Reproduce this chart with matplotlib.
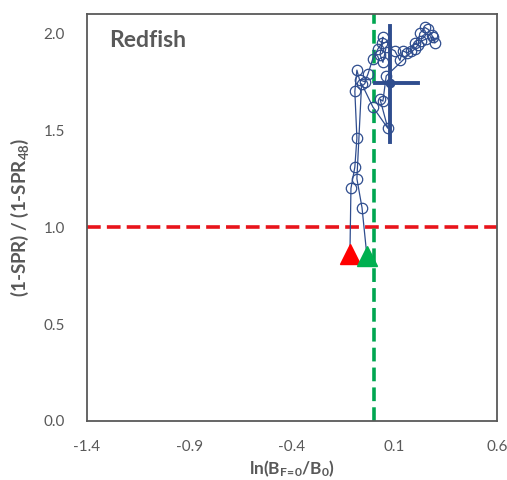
import matplotlib
matplotlib.use("Agg")
import matplotlib.pyplot as plt

# Trajectory (ln(B_F=0/B0), (1-SPR)/(1-SPR48))
traj_x = [-0.117, -0.112, -0.093, -0.083, -0.093, -0.083, -0.070, -0.044, -0.029,
          -0.005, 0.020, 0.039, 0.044, 0.030, 0.044, 0.060, 0.102, 0.127, 0.140,
          0.161, 0.180, 0.200, 0.215, 0.224, 0.249, 0.265, 0.283, 0.298, 0.290,
          0.255, 0.230, 0.200, 0.060, 0.044, 0.030, 0.068, -0.005, -0.060,
          -0.083, -0.058, -0.034]
traj_y = [0.86, 1.20, 1.31, 1.46, 1.70, 1.81, 1.76, 1.75, 1.79,
          1.87, 1.92, 1.95, 1.98, 1.89, 1.85, 1.93, 1.91, 1.86, 1.91,
          1.90, 1.91, 1.95, 1.94, 2.00, 2.03, 2.02, 1.99, 1.95, 1.98,
          1.97, 1.96, 1.92, 1.78, 1.65, 1.66, 1.51, 1.62, 1.74,
          1.25, 1.10, 0.85]
# marker points exclude the triangle endpoints
pts_x = traj_x[1:-1]
pts_y = traj_y[1:-1]

# current status with uncertainty
cur_x, cur_y = 0.078, 1.742
cur_xlo, cur_xhi = 0.005, 0.215
cur_ylo, cur_yhi = 1.44, 2.04

start_red = (-0.117, 0.86)
start_green = (-0.034, 0.85)

ref_x = 0.0
ref_y = 1.0

xticks = [-1.4, -0.9, -0.4, 0.1, 0.6]
yticks = [0.0, 0.5, 1.0, 1.5, 2.0]

plt.rcParams['font.family'] = ['Lato', 'DejaVu Sans']
plt.rcParams['mathtext.default'] = 'regular'

fig = plt.figure(figsize=(5.07, 4.80), dpi=100)
ax = fig.add_axes([0.1716, 0.123, 0.8084, 0.848])

gray = '#595959'
blue = '#2F4D8E'

ax.axhline(ref_y, color='#E8141B', lw=2.6, dashes=(3.8, 1.7), zorder=2)
ax.axvline(ref_x, color='#00A651', lw=2.6, dashes=(3.8, 1.7), zorder=2)

ax.plot(traj_x, traj_y, color=blue, lw=0.9, zorder=3)
ax.plot(pts_x, pts_y, ls='none', marker='o', ms=7.5, mfc='none', mec=blue,
        mew=0.9, zorder=4)

ax.plot([cur_xlo, cur_xhi], [cur_y, cur_y], color=blue, lw=2.8, zorder=5)
ax.plot([cur_x, cur_x], [cur_ylo, cur_yhi], color=blue, lw=2.8, zorder=5)
ax.plot([cur_x], [cur_y], marker='o', ms=6, color=blue, zorder=5)

ax.plot([start_red[0]], [start_red[1]], marker='^', ms=15, color='#FF0000',
        mec='#FF0000', zorder=6)
ax.plot([start_green[0]], [start_green[1]], marker='^', ms=15, color='#00B050',
        mec='#00B050', zorder=7)

ax.set_xlim(-1.4, 0.6)
ax.set_ylim(0.0, 2.1)
ax.set_xticks(xticks)
ax.set_yticks(yticks)
ax.set_xticklabels([f'{v:.1f}' for v in xticks])
ax.set_yticklabels([f'{v:.1f}' for v in yticks])
ax.tick_params(length=0, labelsize=11, colors=gray)
ax.tick_params(axis='y', pad=16)
ax.tick_params(axis='x', pad=14)
for s in ax.spines.values():
    s.set_color(gray)
    s.set_linewidth(1.3)

ax.set_xlabel(r'ln(B$\mathregular{_{F\!=\!0}}$/B$\mathregular{_0}$)', fontsize=12.5,
              fontweight='bold', color=gray, labelpad=3)
ax.set_ylabel(r'(1-SPR) / (1-SPR$\mathregular{_{48}}$)', fontsize=13.5,
              fontweight='bold', color=gray, labelpad=9)

ax.text(0.053, 0.96, 'Redfish', transform=ax.transAxes, fontsize=16.5,
        fontweight='bold', color=gray, va='top', ha='left')

fig.savefig('out.png', dpi=100)
